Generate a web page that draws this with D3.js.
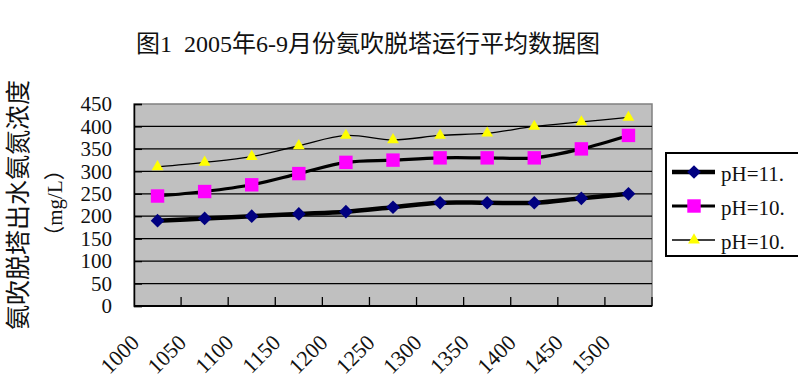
<!DOCTYPE html>
<html>
<head>
<meta charset="utf-8">
<script src="https://cdn.jsdelivr.net/npm/d3@7"></script>
<style>
  body { margin: 0; background: #fff; }
  svg { display: block; }
  text { font-family: "Liberation Serif", "Times New Roman", "Noto Sans CJK SC", serif; fill: #111; }
</style>
</head>
<body>
<div id="chart"></div>
<script>
// Chart data
const categories = ["1000", "1050", "1100", "1150", "1200", "1250", "1300", "1350", "1400", "1450", "1500"];
const seriesNames = ["pH=11.", "pH=10.", "pH=10."];
const ph11 = [190, 195, 200, 205, 210, 220, 230, 230, 230, 240, 250];
const ph10a = [245, 255, 270, 295, 320, 325, 330, 330, 330, 350, 380];
const ph10b = [310, 320, 333, 357, 380, 370, 380, 385, 400, 410, 420];
const yTicks = [0, 50, 100, 150, 200, 250, 300, 350, 400, 450];

const titleText = "图1  2005年6-9月份氨吹脱塔运行平均数据图";
const yTitle = "氨吹脱塔出水氨氮浓度";
const yUnit = "（mg/L）";

const serifFont = "'Liberation Serif', 'Times New Roman', serif";

// Size of the page and of the plot area
const width = 798;
const height = 392;
const plot = { left: 134, right: 652, top: 104, bottom: 306 };

const svg = d3.select("#chart")
    .append("svg")
    .attr("width", width)
    .attr("height", height);

// Scales
const x = d3.scaleBand()
    .domain(categories)
    .range([plot.left, plot.right])
    .padding(0);

const y = d3.scaleLinear()
    .domain([0, 450])
    .range([plot.bottom, plot.top]);

// Series styling (marker type, colour, line width)
const series = [
    { name: seriesNames[0], values: ph11, symbol: d3.symbolDiamond2, size: 120, fill: "#000080", lw: 4.5 },
    { name: seriesNames[1], values: ph10a, symbol: d3.symbolSquare, size: 180, fill: "#ff00ff", lw: 3.2 },
    { name: seriesNames[2], values: ph10b, symbol: d3.symbolTriangle, size: 60, fill: "#ffff00", lw: 1.3 }
];

// Plot background
svg.append("rect")
    .attr("x", plot.left)
    .attr("y", plot.top)
    .attr("width", plot.right - plot.left)
    .attr("height", plot.bottom - plot.top)
    .attr("fill", "#c0c0c0")
    .attr("stroke", "#808080")
    .attr("stroke-width", 1.5);

// Horizontal gridlines
svg.append("g")
    .selectAll("line")
    .data(yTicks.filter(d => d > 0 && d < 450))
    .join("line")
    .attr("x1", plot.left)
    .attr("x2", plot.right)
    .attr("y1", d => y(d))
    .attr("y2", d => y(d))
    .attr("stroke", "#000")
    .attr("stroke-width", 1.3);

// Y axis, ticks pointing inward
const yAxis = svg.append("g")
    .attr("transform", `translate(${plot.left},0)`)
    .call(d3.axisLeft(y).tickValues(yTicks).tickSize(-8).tickPadding(22));
yAxis.attr("font-family", serifFont);
yAxis.select(".domain").attr("stroke", "#000").attr("stroke-width", 1.5);
yAxis.selectAll(".tick line").attr("stroke", "#000").attr("stroke-width", 1.3);
yAxis.selectAll(".tick text")
    .style("font-size", "21px")
    .style("font-family", serifFont)
    .attr("fill", "#111");

// X axis with tick marks at band boundaries, pointing inward
const xg = svg.append("g");
xg.append("line")
    .attr("x1", plot.left)
    .attr("x2", plot.right)
    .attr("y1", plot.bottom)
    .attr("y2", plot.bottom)
    .attr("stroke", "#000")
    .attr("stroke-width", 1.8);
xg.selectAll(".xtick")
    .data(categories)
    .join("line")
    .attr("class", "xtick")
    .attr("x1", d => x(d) + x.bandwidth())
    .attr("x2", d => x(d) + x.bandwidth())
    .attr("y1", plot.bottom)
    .attr("y2", plot.bottom - 9)
    .attr("stroke", "#000")
    .attr("stroke-width", 1.3);

// Rotated category labels
xg.selectAll(".xlabel")
    .data(categories)
    .join("text")
    .attr("class", "xlabel")
    .attr("transform", d => `translate(${x(d) + x.bandwidth() / 2 - 17},344) rotate(-45)`)
    .attr("text-anchor", "end")
    .style("font-size", "22px")
    .style("font-family", serifFont)
    .text(d => d);

// Lines and markers
const line = d3.line()
    .x((d, i) => x(categories[i]) + x.bandwidth() / 2)
    .y(d => y(d))
    .curve(d3.curveCardinal);

series.forEach(s => {
    svg.append("path")
        .datum(s.values)
        .attr("d", line)
        .attr("fill", "none")
        .attr("stroke", "#000")
        .attr("stroke-width", s.lw);
});

series.forEach(s => {
    svg.append("g")
        .selectAll("path")
        .data(s.values)
        .join("path")
        .attr("transform", (d, i) => `translate(${x(categories[i]) + x.bandwidth() / 2},${y(d)})`)
        .attr("d", d3.symbol().type(s.symbol).size(s.size))
        .attr("fill", s.fill)
        .attr("stroke", "none");
});

// Title
svg.append("text")
    .attr("x", 368)
    .attr("y", 52)
    .attr("text-anchor", "middle")
    .style("font-size", "24px")
    .style("white-space", "pre")
    .text(titleText);

// Y axis title, two rotated lines
svg.append("text")
    .attr("transform", "translate(27,205) rotate(-90)")
    .attr("text-anchor", "middle")
    .style("font-size", "25px")
    .text(yTitle);

svg.append("text")
    .attr("transform", "translate(62,203) rotate(-90)")
    .attr("text-anchor", "middle")
    .style("font-size", "21px")
    .text(yUnit);

// Legend
const legend = svg.append("g");
legend.append("rect")
    .attr("x", 666)
    .attr("y", 153)
    .attr("width", 150)
    .attr("height", 103)
    .attr("fill", "#fff")
    .attr("stroke", "#000")
    .attr("stroke-width", 2);

const legendRows = [172, 206, 240];
series.forEach((s, i) => {
    const ly = legendRows[i];
    legend.append("line")
        .attr("x1", 672)
        .attr("x2", 715)
        .attr("y1", ly)
        .attr("y2", ly)
        .attr("stroke", "#000")
        .attr("stroke-width", s.lw);
    legend.append("path")
        .attr("transform", `translate(694,${ly})`)
        .attr("d", d3.symbol().type(s.symbol).size(s.size))
        .attr("fill", s.fill);
    legend.append("text")
        .attr("x", 721)
        .attr("y", ly + 9)
        .style("font-size", "21px")
        .text(s.name);
});
</script>
</body>
</html>
